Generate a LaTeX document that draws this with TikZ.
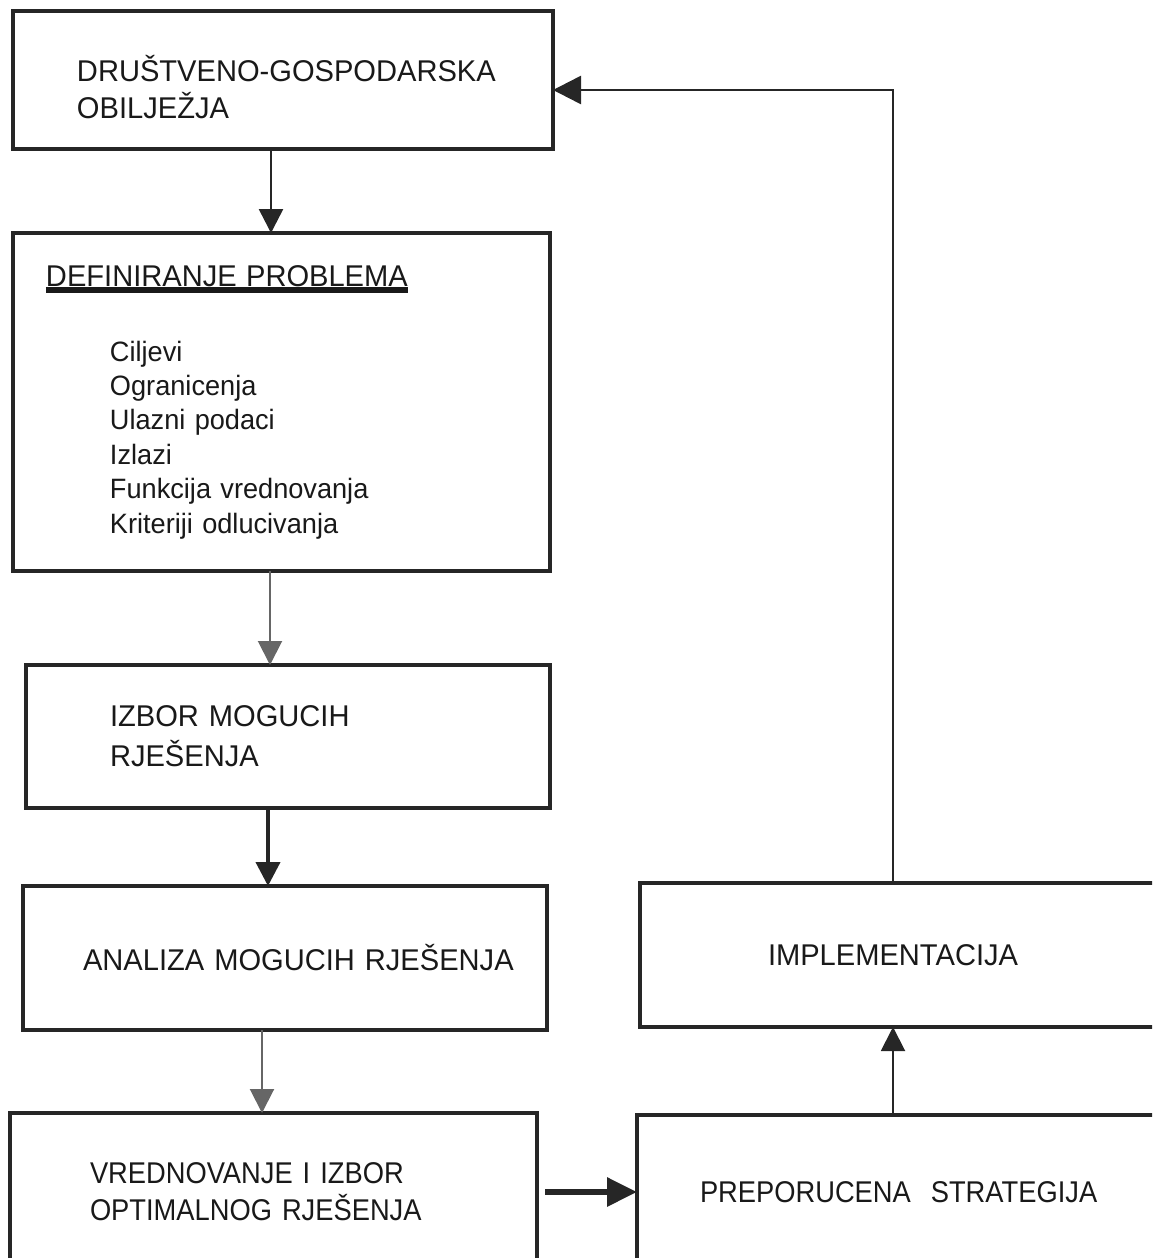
\documentclass[tikz,border=0pt]{standalone}
\usepackage{fontspec}
\setmainfont{Liberation Sans}[FakeStretch=0.97]
\newfontfamily\narrowfont{Liberation Sans}[FakeStretch=0.91]
\usetikzlibrary{positioning, calc, arrows.meta}
\newcommand{\ulthick}[1]{\setbox0=\hbox{#1}\rlap{\rule[-3.5pt]{\wd0}{2.8pt}}\box0}
\tikzstyle{Box} = [
draw=black!85,
line width=1.6pt,
fill=white,
outer sep=0pt,
inner xsep=0pt,
align=left,
text=black!90,
font=\fontsize{15}{18.5}\selectfont]
\tikzstyle{Arrow} = [
draw=black!85,
line width=1.3pt,
-{Triangle[length=12pt, width=12pt]}]
\tikzset{textinset/.style={execute at begin node={\leftskip=#1\relax}}}

\begin{document}
\begin{tikzpicture}[x=0.5pt, y=-0.5pt]
    \useasboundingbox (0,0) rectangle (1152,1258);
    \clip (0,0) rectangle (1152,1258);
    % left column
    \node [Box, anchor=north west, text width=270pt, minimum height=69pt, textinset=32pt] (1) at (13,11)
        {\rule{0pt}{20pt}DRUŠTVENO-GOSPODARSKA\\OBILJEŽJA};
    \node [Box, below=42pt of 1.south west, anchor=north west, text width=268.5pt, minimum height=169pt,
        textinset=16.5pt, font=\fontsize{14}{17.2}\selectfont] (2)
        {{\fontsize{15}{17.2}\selectfont\ulthick{DEFINIRANJE PROBLEMA}}\\[20.3pt]
        \leftskip=48.5pt Ciljevi\\Ogranicenja\\Ulazni podaci\\Izlazi\\Funkcija vrednovanja\\Kriteriji odlucivanja\par};
    \node [Box, below=47pt of 2.south west, anchor=north west, xshift=6.5pt, text width=262pt, minimum height=71.5pt,
        textinset=42pt, font=\fontsize{15}{20}\selectfont] (3) {IZBOR MOGUCIH\\RJEŠENJA};
    \node [Box, below=39pt of 3.south west, anchor=north west, xshift=-1.5pt, text width=262pt, minimum height=72pt,
        textinset=30pt] (4) {ANALIZA MOGUCIH RJEŠENJA};
    \node [Box, below=41.5pt of 4.south west, anchor=north west, xshift=-6.5pt, text width=263.5pt, minimum height=79pt,
        textinset=40pt, font=\narrowfont\fontsize{15}{18.5}\selectfont] (5) {VREDNOVANJE I IZBOR\\OPTIMALNOG RJEŠENJA};
    % right column
    \node [Box, right=50pt of 5, text width=270pt, minimum height=77pt,
        textinset=31.5pt, font=\narrowfont\fontsize{15}{18.5}\selectfont] (6) {PREPORUCENA~ STRATEGIJA};
    \node [Box, above=44pt of 6.north west, anchor=south west, xshift=1.5pt, text width=270pt, minimum height=72pt,
        textinset=64pt] (7) {IMPLEMENTACIJA};
    % connectors
    \draw[Arrow] ([xshift=-6pt]1.south) -- ([xshift=-6pt]1.south |- 2.north);
    \draw[Arrow, draw=black!60, line width=1pt] ([xshift=-5.75pt]2.south) -- ([xshift=-5.75pt]2.south |- 3.north);
    \draw[Arrow, line width=2pt] ([xshift=-10pt]3.south) -- ([xshift=-10pt]3.south |- 4.north);
    \draw[Arrow, draw=black!60, line width=1pt] ([xshift=-11.5pt]4.south) -- ([xshift=-11.5pt]4.south |- 5.north);
    \draw[Arrow, line width=3pt, -{Triangle[length=15pt, width=14pt]}] ([xshift=4pt]5.east) -- (6.west);
    \draw[Arrow, line width=1pt] ([xshift=128pt]6.north west) -- ([xshift=128pt]6.north west |- 7.south);
    \draw[Arrow, -{Triangle[length=14pt, width=14pt]}] ([xshift=126.5pt]7.north west) |- ([yshift=-5pt]1.east);
\end{tikzpicture}
\end{document}
